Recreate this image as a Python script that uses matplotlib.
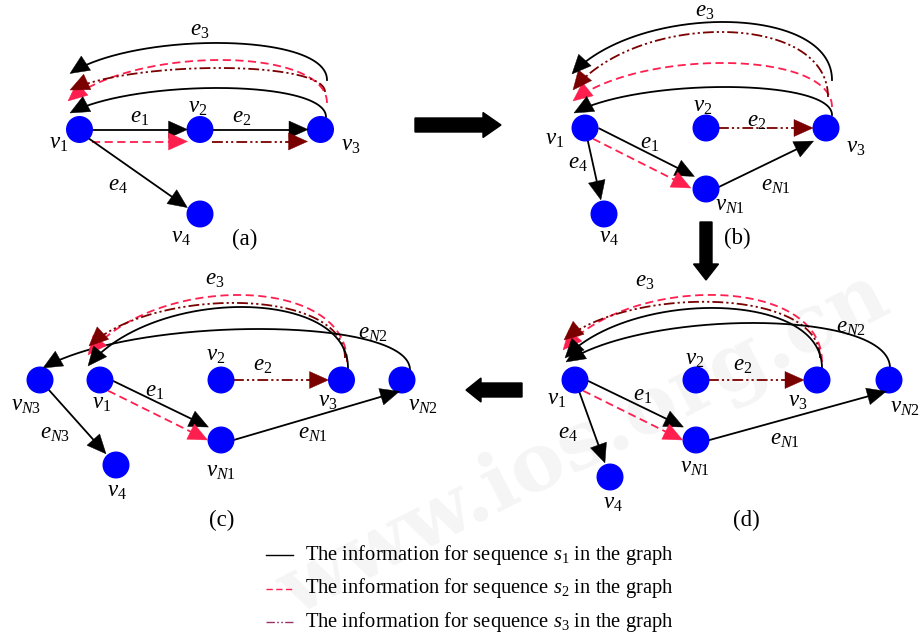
import numpy as np
import matplotlib
matplotlib.use("Agg")
import matplotlib.pyplot as plt
from matplotlib.patches import Circle, Polygon, FancyArrow

plt.rcParams['font.family'] = ['Liberation Serif', 'DejaVu Serif']
plt.rcParams['mathtext.fontset'] = 'custom'
plt.rcParams['mathtext.rm'] = 'Liberation Serif'
plt.rcParams['mathtext.it'] = 'Liberation Serif:italic'

# ---------------- data ----------------
nodes_a = {'v1': (79.5, 129.5), 'v2': (200, 129.5), 'v3': (320.5, 129.5), 'v4': (200, 214)}
nodes_b = {'v1': (585, 128), 'v2': (706, 128), 'v3': (826, 128), 'v4': (604, 214), 'vN1': (706, 189)}
nodes_c = {'vN3': (40, 380), 'v1': (100, 380), 'v2': (221, 380), 'v3': (341.5, 380),
           'vN2': (402, 380), 'vN1': (221, 440), 'v4': (116, 465)}
nodes_d = {'v1': (575, 380), 'v2': (696, 380), 'v3': (817, 380), 'vN2': (889, 380),
           'vN1': (696, 440), 'v4': (610, 477)}

# straight edges: (from, to, sequence, start perp offset, end perp offset, end gap)
edges_a = [('v1', 'v2', 's1', 0, 0, 12.5), ('v1', 'v2', 's2', 12, 12, 12.5),
           ('v2', 'v3', 's1', 0, 0, 12.5), ('v2', 'v3', 's3', 12, 12, 13),
           ('v1', 'v4', 's1', 2, 2, 14)]
edges_b = [('v1', 'vN1', 's1', -6, -6, 16), ('v1', 'vN1', 's2', 6, 6, 14),
           ('v2', 'v3', 's3', 0, 0, 13), ('vN1', 'v3', 's1', 4, 6, 17),
           ('v1', 'v4', 's1', 0, 0, 14.5)]
edges_c = [('v1', 'vN1', 's1', -5, -6, 17), ('v1', 'vN1', 's2', 6, 6, 12),
           ('v2', 'v3', 's3', 0, 0, 13), ('vN1', 'vN2', 's1', 4, 10, 6),
           ('vN3', 'v4', 's1', 0, 0, 15)]
edges_d = [('v1', 'vN1', 's1', -5, -6, 17), ('v1', 'vN1', 's2', 6, 6, 12),
           ('v2', 'v3', 's3', 0, 0, 13), ('vN1', 'vN2', 's1', 4, 10, 6),
           ('v1', 'v4', 's1', 0, 0, 15)]

# curved edges: (from, to, sequence, start offset, end offset, apex y)
arcs_a = [('v3', 'v1', 's2', (6.5, -26.5), (-11.5, -28.5), 60),
          ('v3', 'v1', 's3', (4.5, -37.5), (-9.5, -39.5), 68),
          ('v3', 'v1', 's1', (6.5, -49.5), (-9.5, -56), 43),
          ('v3', 'v1', 's1', (5.5, -12.5), (-9.5, -16.5), 88)]
arcs_b = [('v3', 'v1', 's2', (6, -21), (-12, -27), 63),
          ('v3', 'v1', 's3', (2, -31), (-12, -38), 32),
          ('v3', 'v1', 's1', (6, -48), (-13, -54), 22),
          ('v3', 'v1', 's1', (6, -13), (-11, -15), 87)]
arcs_c = [('v3', 'v1', 's2', (5.5, -18), (-12, -25), 295),
          ('v3', 'v1', 's3', (3.5, -22), (-11, -34), 303),
          ('v3', 'v1', 's1', (6.5, -12), (-12, -14), 307),
          ('vN2', 'vN3', 's1', (8, -10), (3, -12), 329)]
arcs_d = [('v3', 'v1', 's2', (5, -18), (-12, -30), 295),
          ('v3', 'v1', 's3', (3, -22), (-11, -40), 302),
          ('v3', 'v1', 's1', (5, -12), (-10, -22), 308),
          ('vN2', 'v1', 's1', (1, -12), (-9, -18), 323)]

labels = [
    # panel a
    (r'$v_1$', 59, 144), (r'$v_2$', 198, 107), (r'$v_3$', 351, 145), (r'$v_4$', 181, 238),
    (r'$e_1$', 140, 117), (r'$e_2$', 242, 118), (r'$e_3$', 200, 30), (r'$e_4$', 118, 186),
    ('(a)', 245, 239),
    # panel b
    (r'$v_1$', 555, 140), (r'$v_2$', 703, 106), (r'$v_3$', 856, 148), (r'$v_4$', 609, 238),
    (r'$v_{N1}$', 730, 205), (r'$e_1$', 650, 143), (r'$e_2$', 757, 122), (r'$e_3$', 705, 11),
    (r'$e_4$', 578, 163), (r'$e_{N1}$', 776, 186), ('(b)', 737, 238),
    # panel c
    (r'$v_{N3}$', 26, 405), (r'$v_1$', 102, 403), (r'$v_2$', 216, 355), (r'$v_3$', 328, 401),
    (r'$v_{N2}$', 423, 406), (r'$v_{N1}$', 221, 471), (r'$v_4$', 117, 492),
    (r'$e_1$', 155, 391), (r'$e_2$', 263, 366), (r'$e_3$', 215, 279), (r'$e_{N2}$', 373, 334),
    (r'$e_{N3}$', 55, 433), (r'$e_{N1}$', 313, 433), ('(c)', 222, 520),
    # panel d
    (r'$v_1$', 557, 400), (r'$v_2$', 695, 359), (r'$v_3$', 798, 402), (r'$v_{N2}$', 905, 408),
    (r'$v_{N1}$', 695, 468), (r'$v_4$', 613, 504), (r'$e_1$', 643, 396), (r'$e_2$', 743, 366),
    (r'$e_3$', 645, 282), (r'$e_4$', 568, 433), (r'$e_{N1}$', 785, 439), (r'$e_{N2}$', 851, 327),
    ('(d)', 746, 520),
]

legend_texts = [r'The information for sequence $s_1$ in the graph',
                r'The information for sequence $s_2$ in the graph',
                r'The information for sequence $s_3$ in the graph']

styles = {
    's1': dict(color='#000000', ls='-'),
    's2': dict(color='#ff1f4f', ls=(0, (4.5, 2.5))),
    's3': dict(color='#7a0000', ls=(0, (6, 1.7, 1.2, 1.7, 1.2, 1.7))),
}
legend_colors = {'s1': '#000000', 's2': '#ff1f4f', 's3': '#993366'}

NODE_R = 12.8
HEAD_L = 19
HEAD_W = 17
LW = 1.3

# ---------------- drawing ----------------
W, H = 921, 635
fig = plt.figure(figsize=(9.21, 6.35), dpi=100)
ax = fig.add_axes([0, 0, 1, 1])
ax.set_xlim(0, W)
ax.set_ylim(H, 0)
ax.axis('off')

# faint watermark
ax.text(585, 445, 'www.ios.org.cn', fontsize=58, rotation=27, color='#000000', alpha=0.045,
        ha='center', va='center', fontweight='bold', family='DejaVu Serif', zorder=0)


def head(tip, u, color):
    u = np.asarray(u) / np.hypot(*u)
    p = np.array([-u[1], u[0]])
    tip = np.asarray(tip)
    base = tip - HEAD_L * u
    ax.add_patch(Polygon([tip, base + HEAD_W / 2 * p, base - HEAD_W / 2 * p], closed=True,
                         fc=color, ec=color, lw=0.3, zorder=5))


def draw_edges(nodes, edges):
    for a, b, s, sp, ep, gap in edges:
        A = np.array(nodes[a]); B = np.array(nodes[b])
        d = (B - A) / np.hypot(*(B - A))
        n = np.array([-d[1], d[0]])
        st = A + 12 * d + sp * n
        tip = B - gap * d + ep * n
        u = (tip - st) / np.hypot(*(tip - st))
        end = tip - HEAD_L * 0.8 * u
        ax.plot([st[0], end[0]], [st[1], end[1]], color=styles[s]['color'],
                ls=styles[s]['ls'], lw=LW, zorder=2, solid_capstyle='butt')
        head(tip, u, styles[s]['color'])


def draw_arcs(nodes, arcs):
    t = np.linspace(0, 1, 300)[:, None]
    for a, b, s, so, eo, apex in arcs:
        P0 = np.array(nodes[a]) + np.array(so)
        P3 = np.array(nodes[b]) + np.array(eo)
        c = (apex - 0.125 * (P0[1] + P3[1])) / 0.75
        P1 = np.array([P0[0], c])
        P2 = np.array([P3[0] + 0.25 * (P0[0] - P3[0]), c])
        pts = ((1 - t) ** 3) * P0 + 3 * ((1 - t) ** 2) * t * P1 + 3 * (1 - t) * t ** 2 * P2 + t ** 3 * P3
        u = P3 - P2
        u = u / np.hypot(*u)
        dist = np.hypot(*(pts - P3).T)
        keep = dist > HEAD_L * 0.8
        ax.plot(pts[keep, 0], pts[keep, 1], color=styles[s]['color'], ls=styles[s]['ls'],
                lw=LW, zorder=2)
        head(P3, u, styles[s]['color'])


def draw_nodes(nodes):
    for k, (x, y) in nodes.items():
        ax.add_patch(Circle((x, y), NODE_R, fc='#0000ff', ec='#0000ff', zorder=4))


for nd, ed, ar in [(nodes_a, edges_a, arcs_a), (nodes_b, edges_b, arcs_b),
                   (nodes_c, edges_c, arcs_c), (nodes_d, edges_d, arcs_d)]:
    draw_arcs(nd, ar)
    draw_edges(nd, ed)
    draw_nodes(nd)

for txt, x, y in labels:
    ax.text(x, y, txt, fontsize=16.5, ha='center', va='center', zorder=6)

# big transition arrows
ax.add_patch(FancyArrow(415, 125, 86, 0, width=14, head_width=25, head_length=18,
                        length_includes_head=True, fc='black', ec='black', zorder=3))
ax.add_patch(FancyArrow(706, 222, 0, 58, width=12, head_width=25, head_length=16,
                        length_includes_head=True, fc='black', ec='black', zorder=3))
ax.add_patch(FancyArrow(522, 390, -56, 0, width=14, head_width=24, head_length=15,
                        length_includes_head=True, fc='black', ec='black', zorder=3))

# legend
for i, (s, txt) in enumerate(zip(['s1', 's2', 's3'], legend_texts)):
    y = 555 + i * 33.5
    ax.plot([266, 293], [y, y], color=legend_colors[s], ls=styles[s]['ls'], lw=1.0, zorder=3)
    ax.text(305, y, txt, fontsize=14.8, ha='left', va='center', zorder=6)

fig.savefig('out.png', dpi=100)
